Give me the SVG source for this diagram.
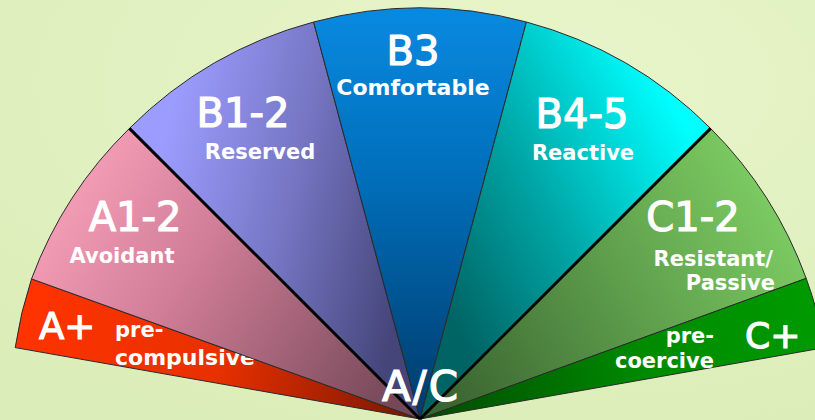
<svg xmlns="http://www.w3.org/2000/svg" width="815" height="420" viewBox="0 0 815 420">
  <defs>
    <radialGradient id="bg" cx="0.65" cy="0.2" r="0.9">
      <stop offset="0" stop-color="#e9f5cb"/>
      <stop offset="1" stop-color="#dbedb8"/>
    </radialGradient>
    <linearGradient id="gAplus" gradientUnits="userSpaceOnUse" x1="20" y1="320" x2="420" y2="410">
      <stop offset="0" stop-color="#ff3300"/>
      <stop offset="0.5" stop-color="#e83000"/>
      <stop offset="1" stop-color="#761600"/>
    </linearGradient>
    <linearGradient id="gA12" gradientUnits="userSpaceOnUse" x1="50" y1="190" x2="390" y2="410">
      <stop offset="0" stop-color="#f8a0ba"/>
      <stop offset="0.4" stop-color="#d07d97"/>
      <stop offset="1" stop-color="#744858"/>
    </linearGradient>
    <linearGradient id="gB12" gradientUnits="userSpaceOnUse" x1="150" y1="200" x2="410" y2="260">
      <stop offset="0" stop-color="#9c9cff"/>
      <stop offset="0.5" stop-color="#7676c4"/>
      <stop offset="1" stop-color="#45457a"/>
    </linearGradient>
    <linearGradient id="gB3" gradientUnits="userSpaceOnUse" x1="0" y1="20" x2="0" y2="419">
      <stop offset="0" stop-color="#0888de"/>
      <stop offset="0.4" stop-color="#006eba"/>
      <stop offset="1" stop-color="#003a6a"/>
    </linearGradient>
    <linearGradient id="gB45" gradientUnits="userSpaceOnUse" x1="440" y1="300" x2="700" y2="150">
      <stop offset="0" stop-color="#006464"/>
      <stop offset="0.45" stop-color="#00a4a4"/>
      <stop offset="1" stop-color="#00ffff"/>
    </linearGradient>
    <linearGradient id="gC12" gradientUnits="userSpaceOnUse" x1="780" y1="210" x2="450" y2="410">
      <stop offset="0" stop-color="#7ccb62"/>
      <stop offset="0.45" stop-color="#5e9e4c"/>
      <stop offset="1" stop-color="#3a6430"/>
    </linearGradient>
    <linearGradient id="gCplus" gradientUnits="userSpaceOnUse" x1="815" y1="320" x2="430" y2="410">
      <stop offset="0" stop-color="#009a00"/>
      <stop offset="0.45" stop-color="#008a00"/>
      <stop offset="1" stop-color="#004c00"/>
    </linearGradient>
  </defs>
  <style>
    .wedge { stroke: #2a2a2a; stroke-width: 1; stroke-linejoin: round; }
    .divider { stroke: #000; stroke-width: 3; fill: none; }
    text { fill: #fff; font-family: "DejaVu Sans", "Liberation Sans", sans-serif; }
    .big { font-size: 40px; font-weight: normal; stroke: #fff; stroke-width: 1.2; }
    .small { font-size: 21px; font-weight: bold; }
    .mid { text-anchor: middle; }
    .end { text-anchor: end; }
  </style>

  <rect width="815" height="420" fill="url(#bg)"/>

  <g id="A-plus">
    <path class="wedge" fill="url(#gAplus)" d="M420,419 L15.2,347.6 A411,411 0 0,1 31.5,278.9 Z"/>
    <text class="big" x="39" y="339" style="font-size:37px">A+</text>
    <text class="small" x="115" y="337">pre-</text>
    <text class="small" x="115" y="365" style="font-size:22px">compulsive</text>
  </g>

  <g id="A1-2">
    <path class="wedge" fill="url(#gA12)" d="M420,419 L31.5,278.9 A411,411 0 0,1 129.4,128.4 Z"/>
    <text class="big mid" x="135" y="231">A1-2</text>
    <text class="small mid" x="122" y="263">Avoidant</text>
  </g>

  <g id="B1-2">
    <path class="wedge" fill="url(#gB12)" d="M420,419 L129.4,128.4 A411,411 0 0,1 313.6,22 Z"/>
    <text class="big mid" x="243" y="127">B1-2</text>
    <text class="small mid" x="260" y="159">Reserved</text>
  </g>

  <g id="B3">
    <path class="wedge" fill="url(#gB3)" d="M420,419 L313.6,22 A411,411 0 0,1 526.4,22 Z"/>
    <text class="big mid" x="413" y="65">B3</text>
    <text class="small mid" x="413" y="95" style="font-size:22px">Comfortable</text>
  </g>

  <g id="B4-5">
    <path class="wedge" fill="url(#gB45)" d="M420,419 L526.4,22 A411,411 0 0,1 710.6,128.4 Z"/>
    <text class="big mid" x="582" y="128">B4-5</text>
    <text class="small mid" x="583" y="160">Reactive</text>
  </g>

  <g id="C1-2">
    <path class="wedge" fill="url(#gC12)" d="M420,419 L710.6,128.4 A411,411 0 0,1 806.2,278.4 Z"/>
    <text class="big mid" x="693" y="231">C1-2</text>
    <text class="small end" x="773" y="266">Resistant/</text>
    <text class="small end" x="775" y="290">Passive</text>
  </g>

  <g id="C-plus">
    <path class="wedge" fill="url(#gCplus)" d="M420,419 L806.2,278.4 A411,411 0 0,1 824.8,347.6 Z"/>
    <text class="big" x="745" y="348" style="font-size:36px">C+</text>
    <text class="small end" x="714" y="343">pre-</text>
    <text class="small end" x="714" y="368">coercive</text>
  </g>

  <g id="connectors">
    <line class="divider" x1="420" y1="419" x2="129.4" y2="128.4"/>
    <line class="divider" x1="420" y1="419" x2="710.6" y2="128.4"/>
  </g>

  <g id="A-C">
    <text class="big mid" x="421" y="401" style="font-size:42px;letter-spacing:2px">A/C</text>
  </g>
</svg>
